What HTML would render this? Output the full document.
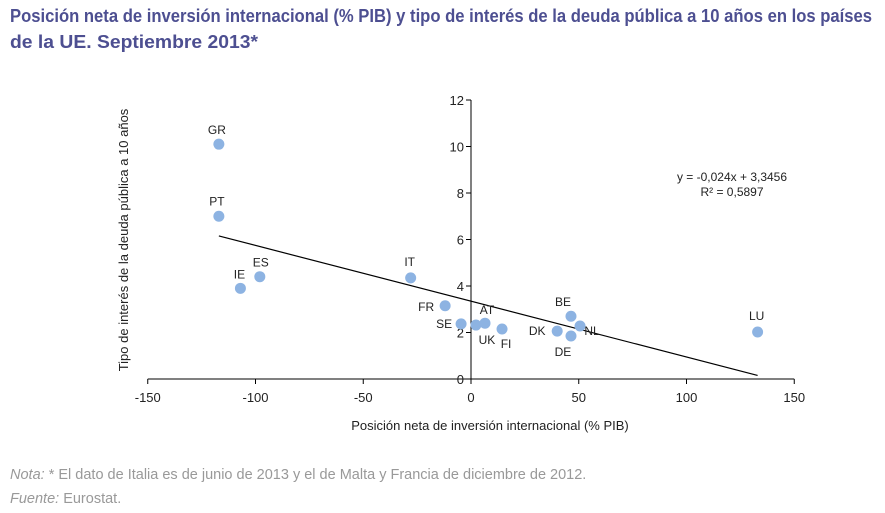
<!DOCTYPE html>
<html><head><meta charset="utf-8"><style>
body{margin:0;background:#fff;}
svg{display:block;font-family:"Liberation Sans",sans-serif;}
</style></head><body>
<svg id="chart" width="885" height="513" viewBox="0 0 885 513">
<text x="10" y="22" font-size="18" font-weight="bold" fill="#4d4f91" textLength="862" lengthAdjust="spacingAndGlyphs">Posición neta de inversión internacional (% PIB) y tipo de interés de la deuda pública a 10 años en los países</text>
<text x="10" y="48" font-size="18" font-weight="bold" fill="#4d4f91" textLength="248" lengthAdjust="spacingAndGlyphs">de la UE. Septiembre 2013*</text>
<g id="axes"></g>
<g id="trend"></g>
<g id="points"></g>
<text x="490" y="430" font-size="13" fill="#222" text-anchor="middle">Posición neta de inversión internacional (% PIB)</text>
<text transform="translate(128,240) rotate(-90)" font-size="13" fill="#222" text-anchor="middle">Tipo de interés de la deuda pública a 10 años</text>
<text x="732" y="181" font-size="12" fill="#222" text-anchor="middle">y = -0,024x + 3,3456</text>
<text x="732" y="196" font-size="12" fill="#222" text-anchor="middle">R² = 0,5897</text>
<text x="10" y="479" font-size="14.5" fill="#999"><tspan font-style="italic">Nota:</tspan> * El dato de Italia es de junio de 2013 y el de Malta y Francia de diciembre de 2012.</text>
<text x="10" y="503" font-size="14.5" fill="#999"><tspan font-style="italic">Fuente:</tspan> Eurostat.</text>
</svg>
<script>
const countries=["GR","PT","IE","ES","IT","FR","SE","UK","AT","FI","DK","BE","DE","NL","LU"];
const xValues=[-117,-117,-107,-98,-28,-12,-4.6,2.3,6.5,14.4,40,46.4,46.4,50.6,133];
const yValues=[10.1,7.0,3.9,4.4,4.35,3.15,2.37,2.32,2.4,2.15,2.06,2.7,1.85,2.28,2.02];
const labelDx=[-2,-2,-1,1,-1,-19,-17,11,2,4,-20,-8,-8,12,-1];
const labelDy=[-10,-11,-10,-10,-12,5,4,19,-9,19,4,-10,20,9,-12];
const xTicks=[-150,-100,-50,0,50,100,150];
const yTicks=[0,2,4,6,8,10,12];
const slope=-0.024, intercept=3.3456;
const X=v=>471+v*2.155;
const Y=v=>379-v*23.25;
const NS="http://www.w3.org/2000/svg";
function mk(tag,attrs,parent,text){const e=document.createElementNS(NS,tag);for(const k in attrs)e.setAttribute(k,attrs[k]);if(text!==undefined)e.textContent=text;parent.appendChild(e);return e;}
const axes=document.getElementById('axes');
let e=mk('line',{x1:X(-150),x2:X(150),y1:Y(0),y2:Y(0),stroke:'#000','stroke-width':1},axes);


e=mk('line',{x1:X(0),x2:X(0),y1:Y(0),y2:Y(12),stroke:'#000','stroke-width':1},axes);


xTicks.forEach(t=>{
 mk('line',{x1:X(t),x2:X(t),y1:Y(0),y2:Y(0)+5,stroke:'#000'},axes);
 e=mk('text',{x:X(t),y:Y(0)+23,'font-size':13,'text-anchor':'middle',fill:'#222'},axes,String(t));
 
 
});
yTicks.forEach(t=>{
 mk('line',{x1:X(0)-5,x2:X(0),y1:Y(t),y2:Y(t),stroke:'#000'},axes);
 e=mk('text',{x:X(0)-7,y:Y(t)+5,'font-size':13,'text-anchor':'end',fill:'#222'},axes,t);
 
 
});
const xmin=Math.min(...xValues), xmax=Math.max(...xValues);
e=mk('line',{x1:X(xmin),y1:Y(slope*xmin+intercept),x2:X(xmax),y2:Y(slope*xmax+intercept),stroke:'#000','stroke-width':1.2},document.getElementById('trend'));


const pts=document.getElementById('points');
countries.forEach((c,i)=>{
 e=mk('circle',{cx:X(xValues[i]),cy:Y(yValues[i]),r:5.5,fill:'#8db3e2'},pts);
 
 
 e=mk('text',{x:X(xValues[i])+labelDx[i],y:Y(yValues[i])+labelDy[i],'font-size':12,'text-anchor':'middle',fill:'#222'},pts,c);
 
 
});
</script>
</body></html>
